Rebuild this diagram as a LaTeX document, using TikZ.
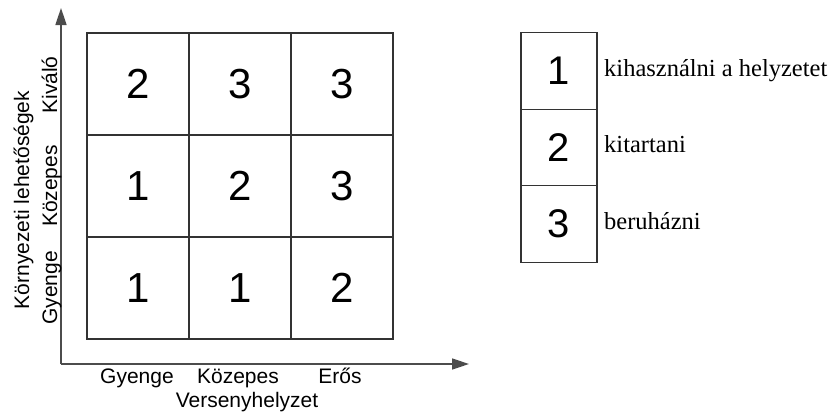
\documentclass[tikz,border=0pt]{standalone}
\usepackage{fontspec}
\setmainfont{Liberation Serif}
\setsansfont{Liberation Sans}
\usetikzlibrary{arrows.meta}
\begin{document}
\begin{tikzpicture}[x=1pt,y=-1pt,
  cell/.style={draw=black!80, line width=1.2pt, minimum width=102pt, minimum height=102pt, inner sep=0pt,
    font=\sffamily\fontsize{42}{42}\selectfont},
  lcell/.style={draw=black!80, line width=1.2pt, minimum width=76pt, minimum height=76.3pt, inner sep=0pt,
    font=\sffamily\fontsize{40}{40}\selectfont},
  axlab/.style={font=\sffamily\fontsize{21}{21}\selectfont, inner sep=0pt},
  legtext/.style={font=\rmfamily\fontsize{24.5}{24.5}\selectfont, inner sep=0pt, anchor=base west},
  axis/.style={draw=black!70, line width=1.6pt, -{Triangle[length=17pt,width=11pt]}}
]
\useasboundingbox (0,0) rectangle (836,413);
% axes
\coordinate (O) at (61,364);
\coordinate (Ytip) at (61,8);
\coordinate (Xtip) at (469,364);
\draw[axis] (O) -- (Ytip);
\draw[axis] (O) -- (Xtip);
% grid cells
\node[cell] (c13) at (138,84) {2};
\node[cell] (c23) at (240,84) {3};
\node[cell] (c33) at (342,84) {3};
\node[cell] (c12) at (138,186) {1};
\node[cell] (c22) at (240,186) {2};
\node[cell] (c32) at (342,186) {3};
\node[cell] (c11) at (138,288) {1};
\node[cell] (c21) at (240,288) {1};
\node[cell] (c31) at (342,288) {2};
% y labels
\node[axlab, rotate=90, anchor=base] (yk) at (57,85) {Kiváló};
\node[axlab, rotate=90, anchor=base] (ym) at (57,186) {Közepes};
\node[axlab, rotate=90, anchor=base] (yg) at (57,288) {Gyenge};
\node[axlab, rotate=90, anchor=base] (ytitle) at (29,200) {Környezeti lehetőségek};
% x labels
\node[axlab, anchor=base] (xg) at (137,383) {Gyenge};
\node[axlab, anchor=base] (xm) at (238,383) {Közepes};
\node[axlab, anchor=base] (xe) at (340,383) {Erős};
\node[axlab, anchor=base] (xtitle) at (247,407) {Versenyhelyzet};
% legend
\node[lcell] (l1) at (559,71) {1};
\node[lcell] (l2) at (559,147.5) {2};
\node[lcell] (l3) at (559,224) {3};
\node[legtext] (t1) at (604,76) {kihasználni a helyzetet};
\node[legtext] (t2) at (604,152) {kitartani};
\node[legtext] (t3) at (604,229) {beruházni};
\end{tikzpicture}
\end{document}
